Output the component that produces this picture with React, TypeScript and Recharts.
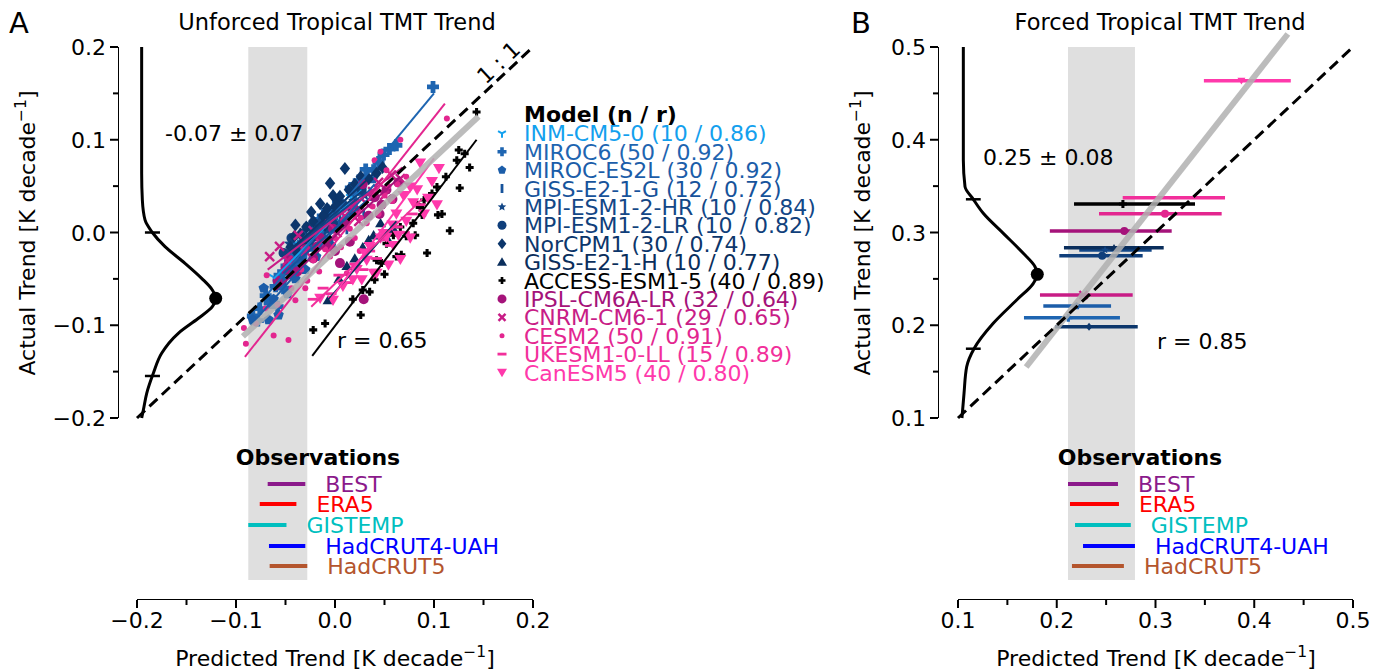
import React from "react";
import { ComposedChart, Scatter, XAxis, YAxis, ReferenceArea } from "recharts";

type Pt = [number, number];

// ---------------- data ----------------
const models = [
  "INM-CM5-0", "MIROC6", "MIROC-ES2L", "GISS-E2-1-G", "MPI-ESM1-2-HR", "MPI-ESM1-2-LR", "NorCPM1",
  "GISS-E2-1-H", "ACCESS-ESM1-5", "IPSL-CM6A-LR", "CNRM-CM6-1", "CESM2", "UKESM1-0-LL", "CanESM5",
];
const modelN = [10, 50, 30, 12, 10, 10, 30, 10, 40, 32, 29, 50, 15, 40];
const modelR = ["0.86", "0.92", "0.92", "0.72", "0.84", "0.82", "0.74", "0.77", "0.89", "0.64", "0.65", "0.91", "0.89", "0.80"];

const inmPts: Pt[] = [
  [-0.062, -0.048], [-0.048, -0.03], [-0.041, -0.012], [-0.03, -0.02], [-0.022, 0.004],
  [-0.012, -0.006], [-0.004, 0.016], [0.008, 0.022], [0.016, 0.038], [0.027, 0.046],
];
const miroc6Pts: Pt[] = [
  [-0.083, -0.09], [-0.078, -0.095], [-0.076, -0.082], [-0.07, -0.068], [-0.066, -0.076], [-0.06, -0.058],
  [-0.058, -0.08], [-0.056, -0.046], [-0.052, -0.06], [-0.049, -0.036], [-0.045, -0.044], [-0.042, -0.024],
  [-0.039, -0.032], [-0.036, -0.014], [-0.034, -0.026], [-0.033, -0.022], [-0.03, -0.004], [-0.027, -0.012],
  [-0.024, 0.006], [-0.02, -0.002], [-0.018, 0.006], [-0.016, 0.014], [-0.012, 0.004], [-0.008, 0.024],
  [-0.003, 0.016], [0.0, 0.02], [0.003, 0.034], [0.009, 0.028], [0.016, 0.048], [0.02, 0.042],
  [0.024, 0.056], [0.031, 0.068], [0.039, 0.067], [0.044, 0.076], [0.049, 0.084], [0.055, 0.09],
  [0.062, 0.094], [0.099, 0.157],
];
const mirocEs2lPts: Pt[] = [
  [-0.083, -0.094], [-0.072, -0.06], [-0.067, -0.094], [-0.062, -0.072], [-0.057, -0.089], [-0.053, -0.052],
  [-0.048, -0.066], [-0.044, -0.038], [-0.04, -0.05], [-0.035, -0.028], [-0.03, -0.04], [-0.025, -0.016],
  [-0.019, -0.026], [-0.012, -0.006], [-0.004, -0.014], [0.006, 0.01], [0.018, 0.022], [0.038, 0.058],
];
const gissGPts: Pt[] = [
  [-0.05, -0.04], [-0.041, -0.02], [-0.033, -0.034], [-0.026, -0.008], [-0.018, -0.018], [-0.01, 0.004],
  [-0.003, -0.01], [0.005, 0.016], [0.012, 0.004], [0.02, 0.028], [0.029, 0.02], [0.036, 0.04],
];
const mpiHrPts: Pt[] = [
  [-0.046, -0.012], [-0.038, -0.024], [-0.031, 0.002], [-0.024, -0.01], [-0.016, 0.012],
  [-0.008, 0.002], [0.001, 0.022], [0.01, 0.014], [0.019, 0.034], [0.03, 0.04],
];
const mpiLrPts: Pt[] = [
  [-0.052, -0.022], [-0.044, -0.006], [-0.036, -0.016], [-0.028, 0.006], [-0.02, -0.004],
  [-0.011, 0.018], [-0.002, 0.01], [0.008, 0.03], [0.018, 0.024], [0.027, 0.046],
];
const norcpmPts: Pt[] = [
  [-0.045, -0.016], [-0.041, -0.004], [-0.04, 0.008], [-0.038, -0.022], [-0.035, -0.002], [-0.032, -0.012],
  [-0.03, -0.016], [-0.029, 0.006], [-0.026, -0.006], [-0.024, 0.022], [-0.022, 0.012], [-0.019, 0.002],
  [-0.015, 0.031], [-0.012, 0.018], [-0.01, 0.008], [-0.008, 0.026], [-0.005, 0.053], [-0.002, 0.04],
  [0.0, 0.028], [0.003, 0.034], [0.005, 0.039], [0.01, 0.069], [0.014, 0.046], [0.02, 0.052],
  [0.026, 0.06], [0.034, 0.058], [0.042, 0.064], [0.048, 0.07],
];
const gissHPts: Pt[] = [
  [-0.007, -0.073], [0.004, -0.05], [0.012, -0.036], [0.02, -0.028], [0.028, -0.016],
  [0.034, -0.008], [0.039, -0.003], [0.046, 0.01], [0.052, -0.005], [0.059, 0.004],
];
const accessPts: Pt[] = [
  [-0.022, -0.105], [-0.01, -0.098], [0.018, -0.072], [0.026, -0.089], [0.028, -0.062], [0.035, -0.064],
  [0.04, -0.051], [0.042, -0.03], [0.047, -0.033], [0.05, -0.045], [0.052, -0.012], [0.059, -0.003],
  [0.062, -0.026], [0.066, 0.006], [0.067, -0.024], [0.072, -0.004], [0.079, 0.01], [0.081, -0.003],
  [0.083, 0.03], [0.086, 0.027], [0.088, 0.019], [0.09, 0.035], [0.093, -0.022], [0.098, 0.042],
  [0.103, 0.049], [0.104, 0.019], [0.108, 0.02], [0.112, 0.06], [0.116, 0.002], [0.123, 0.078],
  [0.125, 0.089], [0.126, 0.048], [0.131, 0.085], [0.136, 0.07], [0.143, 0.13],
];
const ipslPts: Pt[] = [
  [-0.058, -0.052], [-0.05, -0.04], [-0.046, -0.03], [-0.038, -0.042], [-0.03, -0.018], [-0.022, -0.028],
  [-0.018, -0.015], [-0.015, -0.006], [-0.008, -0.016], [-0.002, 0.004], [0.0, -0.02], [0.005, -0.033],
  [0.01, 0.012], [0.015, -0.01], [0.018, 0.03], [0.021, 0.024], [0.028, 0.052], [0.029, -0.072],
  [0.034, 0.018], [0.04, 0.038], [0.045, 0.02], [0.047, 0.03], [0.052, 0.046], [0.058, 0.036], [0.064, 0.054],
];
const cnrmPts: Pt[] = [
  [-0.066, -0.026], [-0.056, -0.015], [-0.048, -0.03], [-0.037, -0.003], [-0.03, -0.02], [-0.022, 0.002],
  [-0.014, -0.012], [-0.006, 0.01], [0.002, 0.0], [0.01, 0.018], [0.018, 0.026], [0.024, 0.012],
  [0.031, 0.032], [0.038, 0.044], [0.044, 0.054], [0.05, 0.04], [0.057, 0.062], [0.066, 0.058],
];
const cesm2Pts: Pt[] = [
  [-0.092, -0.103], [-0.09, -0.12], [-0.08, -0.098], [-0.07, -0.082], [-0.069, -0.046], [-0.062, -0.111],
  [-0.058, -0.078], [-0.047, -0.116], [-0.044, -0.06], [-0.04, -0.073], [-0.034, -0.04], [-0.03, -0.06],
  [-0.028, -0.052], [-0.022, -0.03], [-0.016, -0.042], [-0.01, -0.018], [-0.005, -0.026], [0.0, -0.006],
  [0.006, -0.016], [0.012, -0.044], [0.015, 0.004], [0.02, -0.006], [0.025, -0.02], [0.026, 0.016],
  [0.032, 0.01], [0.038, 0.028], [0.04, 0.078], [0.044, 0.02], [0.046, 0.087], [0.05, 0.04],
  [0.052, 0.067], [0.054, 0.05], [0.058, 0.034], [0.063, 0.052], [0.066, 0.1], [0.072, 0.06], [0.113, 0.123],
];
const ukesmPts: Pt[] = [
  [-0.022, -0.072], [-0.012, -0.06], [-0.004, -0.066], [0.004, -0.046], [0.012, -0.054], [0.02, -0.034],
  [0.028, -0.04], [0.035, -0.02], [0.042, -0.028], [0.049, -0.008], [0.056, -0.014], [0.063, 0.006],
  [0.07, 0.0], [0.078, 0.02], [0.086, 0.03],
];
const canesmPts: Pt[] = [
  [-0.015, -0.071], [-0.002, -0.073], [0.008, -0.058], [0.018, -0.051], [0.022, -0.04], [0.027, -0.051],
  [0.03, -0.022], [0.032, -0.03], [0.035, -0.015], [0.039, -0.044], [0.042, -0.044], [0.046, -0.006],
  [0.049, -0.001], [0.052, -0.005], [0.054, -0.035], [0.058, 0.008], [0.059, -0.014], [0.062, 0.02],
  [0.064, -0.003], [0.066, -0.029], [0.069, 0.04], [0.072, 0.012], [0.076, -0.006], [0.076, 0.049],
  [0.079, 0.032], [0.083, 0.046], [0.086, 0.075], [0.09, 0.02], [0.094, 0.037], [0.098, 0.055],
  [0.103, 0.03], [0.105, 0.069],
];
const unforcedPts = [
  inmPts, miroc6Pts, mirocEs2lPts, gissGPts, mpiHrPts, mpiLrPts, norcpmPts,
  gissHPts, accessPts, ipslPts, cnrmPts, cesm2Pts, ukesmPts, canesmPts,
];

// per-model fit lines [x1, y1, x2, y2]
const unforcedFits: [number, number, number, number][] = [
  [-0.062, -0.05, 0.027, 0.046],
  [-0.085, -0.088, 0.1, 0.15],
  [-0.085, -0.1, 0.04, 0.052],
  [-0.052, -0.044, 0.038, 0.04],
  [-0.048, -0.022, 0.032, 0.044],
  [-0.054, -0.026, 0.029, 0.046],
  [-0.046, -0.02, 0.05, 0.074],
  [-0.008, -0.074, 0.062, 0.012],
  [-0.023, -0.133, 0.143, 0.1],
  [-0.06, -0.062, 0.066, 0.06],
  [-0.068, -0.04, 0.068, 0.07],
  [-0.091, -0.134, 0.111, 0.139],
  [-0.024, -0.08, 0.088, 0.036],
  [-0.005, -0.073, 0.1, 0.08],
];
const unforcedAll = [-0.093, -0.112, 0.145, 0.125];
const unforcedR = "0.65";
const unforcedEst = "-0.07 ± 0.07";

// forced: per model y, predicted centre / low / high (null = not drawn)
const forcedY = [null, 0.2082, 0.2208, null, 0.2811, 0.275, 0.1984, 0.2836, 0.3307, 0.3016, 0.2326, 0.3203, 0.3375, 0.4637];
const forcedX = [null, 0.2117, 0.22, null, 0.2489, 0.246, 0.2327, 0.258, 0.267, 0.2684, 0.227, 0.3096, 0.318, 0.387];
const forcedLo = [null, 0.1668, 0.1864, null, 0.2228, 0.2026, 0.1982, 0.2073, 0.2175, 0.193, 0.183, 0.2428, 0.2668, 0.349];
const forcedHi = [null, 0.264, 0.255, null, 0.2961, 0.287, 0.282, 0.3083, 0.34, 0.3164, 0.2769, 0.367, 0.3704, 0.437];
const forcedAll = [0.169, 0.155, 0.434, 0.514];
const forcedR = "0.85";
const forcedEst = "0.25 ± 0.08";

// observational constraint distributions (x = density offset, y = trend)
const pdfA: Pt[] = [
  [-0.1953, 0.2], [-0.1953, 0.12], [-0.1953, 0.064], [-0.1946, 0.035], [-0.1919, 0.0135], [-0.1845, 0.0],
  [-0.1717, -0.0153], [-0.1515, -0.0332], [-0.1347, -0.0494], [-0.1239, -0.062], [-0.1205, -0.071],
  [-0.1239, -0.08], [-0.138, -0.0925], [-0.1583, -0.1087], [-0.1751, -0.1302], [-0.1835, -0.1518],
  [-0.1902, -0.1734], [-0.1936, -0.1914], [-0.1953, -0.2],
];
const pdfApeak: Pt = [-0.1205, -0.071];
const pdfAsig = [0.0, -0.1547];
const pdfB: Pt[] = [
  [0.1054, 0.5], [0.1054, 0.42], [0.1054, 0.3782], [0.1071, 0.3494], [0.1155, 0.3358], [0.1256, 0.3207],
  [0.1459, 0.2991], [0.1661, 0.2776], [0.178, 0.2631], [0.1803, 0.2549], [0.1763, 0.2452], [0.1594, 0.2272],
  [0.1357, 0.2021], [0.1162, 0.1747], [0.1088, 0.1553], [0.1061, 0.1266], [0.104, 0.1],
];
const pdfBpeak: Pt = [0.1803, 0.2549];
const pdfBsig = [0.3358, 0.1747];

const obsNames = ["BEST", "ERA5", "GISTEMP", "HadCRUT4-UAH", "HadCRUT5"];
const obsLoA = [-0.068, -0.076, -0.0876, -0.0667, -0.066];
const obsHiA = [-0.03, -0.039, -0.049, -0.03, -0.028];
const obsLoB = [0.2114, 0.2134, 0.2185, 0.2266, 0.2154];
const obsHiB = [0.262, 0.263, 0.275, 0.2792, 0.268];

const ticksA = [-0.2, -0.15, -0.1, -0.05, 0, 0.05, 0.1, 0.15, 0.2];
const ticksB = [0.1, 0.15, 0.2, 0.25, 0.3, 0.35, 0.4, 0.45, 0.5];

// ---------------- layout / style ----------------
const W = 1387;
const H = 671;
const FONT = "'DejaVu Sans', sans-serif";
const FS = 22;
const TOP = 27;
const BOTTOM = 600;
const Y0 = 47; // pixel of top tick
const PY = 927.5;
const A_L = 118, A_R = 533, PXA = 990;
const B_L = 938, B_R = 1353, PXB = 987.5;
const domAX: [number, number] = [0.2 - (A_R - A_L) / PXA, 0.2];
const domAY: [number, number] = [0.2 - (BOTTOM - Y0) / PY, 0.2 + (Y0 - TOP) / PY];
const domBX: [number, number] = [0.5 - (B_R - B_L) / PXB, 0.5];
const domBY: [number, number] = [0.5 - (BOTTOM - Y0) / PY, 0.5 + (Y0 - TOP) / PY];
const pxA = (x: number) => A_L + (x - domAX[0]) * PXA;
const pxB = (x: number) => B_L + (x - domBX[0]) * PXB;

const colors = [
  "#13a0ee", "#1e65b1", "#1b5da9", "#17539b", "#134787", "#103f7b", "#0c366b",
  "#0a2e5c", "#000000", "#a5137a", "#c81c86", "#e3268f", "#f22f9b", "#ff39ab",
];
const markers = ["tri_down", "P", "pentagon", "vline", "star", "circle", "diamond", "tri_up", "plus", "circle", "x", "dot", "hline", "v"];
const sizeA = [11, 12, 11, 11, 12, 10, 13, 11, 8, 10, 9, 6, 11, 12];
const sizeLeg = [9, 9, 9, 9, 9, 9, 11, 10, 7, 9, 7, 5, 9, 10];
const obsColors = ["#8b1a8b", "#ff0000", "#00bfbf", "#0000ff", "#b4552d"];
const obsRowPx = [484, 504, 525, 546, 566];

function Marker({ kind, cx, cy, s, c }: { kind: string; cx: number; cy: number; s: number; c: string }) {
  const h = s / 2;
  const poly = (pts: number[][]) => <polygon points={pts.map((p) => `${cx + p[0]},${cy + p[1]}`).join(" ")} fill={c} />;
  switch (kind) {
    case "circle":
    case "dot":
      return <circle cx={cx} cy={cy} r={h} fill={c} />;
    case "diamond":
      return poly([[0, -h], [h * 0.8, 0], [0, h], [-h * 0.8, 0]]);
    case "v":
      return poly([[-h, -h * 0.75], [h, -h * 0.75], [0, h * 0.95]]);
    case "tri_up":
      return poly([[-h, h * 0.75], [h, h * 0.75], [0, -h * 0.95]]);
    case "pentagon":
      return poly([0, 1, 2, 3, 4].map((k) => {
        const a = (-90 + k * 72) * Math.PI / 180;
        return [h * Math.cos(a), h * Math.sin(a)];
      }));
    case "star":
      return poly([0, 1, 2, 3, 4, 5, 6, 7, 8, 9].map((k) => {
        const a = (-90 + k * 36) * Math.PI / 180;
        const r = k % 2 === 0 ? h : h * 0.45;
        return [r * Math.cos(a), r * Math.sin(a)];
      }));
    case "P":
    case "plus": {
      const t = kind === "P" ? h * 0.4 : h * 0.38;
      return poly([[-t, -h], [t, -h], [t, -t], [h, -t], [h, t], [t, t], [t, h], [-t, h], [-t, t], [-h, t], [-h, -t], [-t, -t]]);
    }
    case "x":
      return (
        <g stroke={c} strokeWidth={2.4}>
          <line x1={cx - h} y1={cy - h} x2={cx + h} y2={cy + h} />
          <line x1={cx - h} y1={cy + h} x2={cx + h} y2={cy - h} />
        </g>
      );
    case "vline":
      return <line x1={cx} y1={cy - h} x2={cx} y2={cy + h} stroke={c} strokeWidth={2.8} />;
    case "hline":
      return <line x1={cx - h} y1={cy} x2={cx + h} y2={cy} stroke={c} strokeWidth={2.8} />;
    case "tri_down":
      return (
        <g stroke={c} strokeWidth={2}>
          <line x1={cx} y1={cy} x2={cx} y2={cy + h} />
          <line x1={cx} y1={cy} x2={cx - h * 0.87} y2={cy - h * 0.5} />
          <line x1={cx} y1={cy} x2={cx + h * 0.87} y2={cy - h * 0.5} />
        </g>
      );
    default:
      return <circle cx={cx} cy={cy} r={h} fill={c} />;
  }
}

const noShape = () => <g />;
const toXY = (pts: Pt[]) => pts.map(([x, y]) => ({ x, y }));
const seg = (x1: number, y1: number, x2: number, y2: number) => [{ x: x1, y: y1 }, { x: x2, y: y2 }];
const isMajor = (v: number) => Math.abs(v * 10 - Math.round(v * 10)) < 1e-6;
const fmt = (v: number) => (v < 0 ? "\u2212" : "") + Math.abs(v).toFixed(1);

function lineS(key: string, data: { x: number; y: number }[], stroke: string, width: number, extra: any = {}) {
  return (
    <Scatter
      key={key}
      data={data}
      line={{ stroke, strokeWidth: width, ...extra }}
      lineJointType={extra.joint || "linear"}
      shape={noShape}
      isAnimationActive={false}
    />
  );
}

function XTick(props: any) {
  const { x, y, payload } = props;
  const major = isMajor(payload.value);
  return (
    <g>
      <line x1={x} x2={x} y1={y} y2={y + (major ? 8 : 5)} stroke="#000" strokeWidth={2} />
      {major && (
        <text x={x} y={y + 28} textAnchor="middle" fontSize={FS} fontFamily={FONT} fill="#000">
          {fmt(payload.value)}
        </text>
      )}
    </g>
  );
}

function YTick(props: any) {
  const { x, y, payload } = props;
  const major = isMajor(payload.value);
  return (
    <g>
      <line x1={x - (major ? 8 : 5)} x2={x} y1={y} y2={y} stroke="#000" strokeWidth={2} />
      {major && (
        <text x={x - 12} y={y + 8} textAnchor="end" fontSize={FS} fontFamily={FONT} fill="#000">
          {fmt(payload.value)}
        </text>
      )}
    </g>
  );
}

function Panel({ which }: { which: "A" | "B" }) {
  const isA = which === "A";
  const domX = isA ? domAX : domBX;
  const domY = isA ? domAY : domBY;
  const ticks = isA ? ticksA : ticksB;
  const lo = ticks[0];
  const hi = ticks[ticks.length - 1];
  const left = isA ? A_L : B_L;
  const right = isA ? A_R : B_R;
  const obsLo = isA ? obsLoA : obsLoB;
  const obsHi = isA ? obsHiA : obsHiB;
  const yOfPx = (py: number) => hi - (py - Y0) / PY;
  const bandLo = Math.min(...obsLo);
  const bandHi = Math.max(...obsHi);
  const pdf = isA ? pdfA : pdfB;
  const peak = isA ? pdfApeak : pdfBpeak;
  const sig = isA ? pdfAsig : pdfBsig;
  const sigX0 = isA ? -0.192 : 0.108;
  const sigX1 = isA ? -0.1768 : 0.123;
  const all = isA ? unforcedAll : forcedAll;

  const series: React.ReactNode[] = [];

  if (isA) {
    unforcedPts.forEach((pts, i) => {
      series.push(
        <Scatter
          key={`pts${i}`}
          data={toXY(pts)}
          isAnimationActive={false}
          shape={(p: any) => <Marker kind={markers[i]} cx={p.cx} cy={p.cy} s={sizeA[i]} c={colors[i]} />}
        />
      );
    });
    unforcedFits.forEach((f, i) => series.push(lineS(`fit${i}`, seg(f[0], f[1], f[2], f[3]), colors[i], 2)));
  } else {
    forcedY.forEach((y, i) => {
      if (y === null) return;
      series.push(lineS(`bar${i}`, seg(forcedLo[i] as number, y, forcedHi[i] as number, y), colors[i], 3.5));
    });
    forcedY.forEach((y, i) => {
      if (y === null) return;
      series.push(
        <Scatter
          key={`c${i}`}
          data={[{ x: forcedX[i] as number, y }]}
          isAnimationActive={false}
          shape={(p: any) => <Marker kind={markers[i]} cx={p.cx} cy={p.cy} s={8} c={colors[i]} />}
        />
      );
    });
  }

  return (
    <ComposedChart
      width={W}
      height={H}
      margin={{ top: TOP, left: left - 60, right: W - right, bottom: H - BOTTOM - 60 }}
      style={{ position: "absolute", left: 0, top: 0 }}
    >
      <XAxis
        type="number"
        dataKey="x"
        domain={domX}
        allowDataOverflow
        ticks={ticks}
        interval={0}
        tickSize={0}
        tickMargin={0}
        axisLine={false}
        tickLine={false}
        height={60}
        tick={(p: any) => <XTick {...p} />}
      />
      <YAxis
        type="number"
        dataKey="y"
        domain={domY}
        allowDataOverflow
        ticks={ticks}
        interval={0}
        tickSize={0}
        tickMargin={0}
        axisLine={false}
        tickLine={false}
        width={60}
        tick={(p: any) => <YTick {...p} />}
      />
      <ReferenceArea x1={bandLo} x2={bandHi} y1={yOfPx(580)} y2={hi} fill="#dfdfdf" fillOpacity={1} stroke="none" />
      {/* spines */}
      {lineS("spy", seg(domX[0], lo, domX[0], hi), "#000", 2)}
      {lineS("spx", seg(lo, domY[0], hi, domY[0]), "#000", 2)}
      {series}
      {lineS("all", seg(all[0], all[1], all[2], all[3]), "#b0b0b0", 6, { strokeOpacity: 0.85 })}
      {lineS("one", seg(lo, lo, hi, hi), "#000", 3, { strokeDasharray: "11 6" })}
      {lineS("pdf", toXY(pdf), "#000", 3, { joint: "monotoneY" })}
      {sig.map((s, i) => lineS(`sig${i}`, seg(sigX0, s, sigX1, s), "#000", 2.5))}
      <Scatter
        data={[{ x: peak[0], y: peak[1] }]}
        isAnimationActive={false}
        shape={(p: any) => <circle cx={p.cx} cy={p.cy} r={6.5} fill="#000" />}
      />
      {obsNames.map((n, i) => lineS(`obs${n}`, seg(obsLo[i], yOfPx(obsRowPx[i]), obsHi[i], yOfPx(obsRowPx[i])), obsColors[i], 4))}
    </ComposedChart>
  );
}

function Overlay() {
  const t = (x: number, y: number, s: string, extra: any = {}) => (
    <text x={x} y={y} fontSize={FS} fontFamily={FONT} fill="#000" {...extra}>
      {s}
    </text>
  );
  const sup = (x: number, y: number, pre: string, rot = false) => (
    <text
      x={x}
      y={y}
      fontSize={FS}
      fontFamily={FONT}
      textAnchor="middle"
      fill="#000"
      transform={rot ? `rotate(-90 ${x} ${y})` : undefined}
    >
      {pre} [K decade
      <tspan fontSize={15.5} dy={-9}>{"\u22121"}</tspan>
      <tspan dy={9}>]</tspan>
    </text>
  );
  return (
    <svg width={W} height={H} style={{ position: "absolute", left: 0, top: 0, pointerEvents: "none" }}>
      {t(9, 33, "A", { fontSize: 29 })}
      {t(851, 33, "B", { fontSize: 29 })}
      {t(337, 30, "Unforced Tropical TMT Trend", { textAnchor: "middle", fontSize: 22.5 })}
      {t(1160, 30, "Forced Tropical TMT Trend", { textAnchor: "middle", fontSize: 22.5 })}
      {sup(35, 233, "Actual Trend", true)}
      {sup(870, 233, "Actual Trend", true)}
      {sup(335, 666, "Predicted Trend")}
      {sup(1156, 666, "Predicted Trend")}
      {t(165, 141, unforcedEst)}
      {t(337, 348, `r = ${unforcedR}`)}
      {t(983, 165, forcedEst)}
      {t(1157, 349, `r = ${forcedR}`)}
      {t(499, 70, "1 : 1", { textAnchor: "middle", transform: "rotate(-43 499 63)" })}
      {t(524, 122, "Model (n / r)", { fontWeight: "bold" })}
      {models.map((m, i) => {
        const cy = 133.3 + i * 18.4;
        return (
          <g key={m}>
            <Marker kind={markers[i]} cx={502} cy={cy} s={sizeLeg[i]} c={colors[i]} />
            {t(524, cy + 8, `${m} (${modelN[i]} / ${modelR[i]})`, { fill: colors[i] })}
          </g>
        );
      })}
      {t(318, 465, "Observations", { fontWeight: "bold", textAnchor: "middle" })}
      {t(1140, 465, "Observations", { fontWeight: "bold", textAnchor: "middle" })}
      {obsNames.map((n, i) => (
        <g key={n}>
          {t(pxA(obsHiA[i]) + 20, obsRowPx[i] + 8, n, { fill: obsColors[i] })}
          {t(pxB(obsHiB[i]) + 20, obsRowPx[i] + 8, n, { fill: obsColors[i] })}
        </g>
      ))}
    </svg>
  );
}

export default function App() {
  return (
    <div style={{ position: "absolute", left: 0, top: 0, width: W, height: H, background: "#fff", overflow: "hidden" }}>
      <Panel which="A" />
      <Panel which="B" />
      <Overlay />
    </div>
  );
}
